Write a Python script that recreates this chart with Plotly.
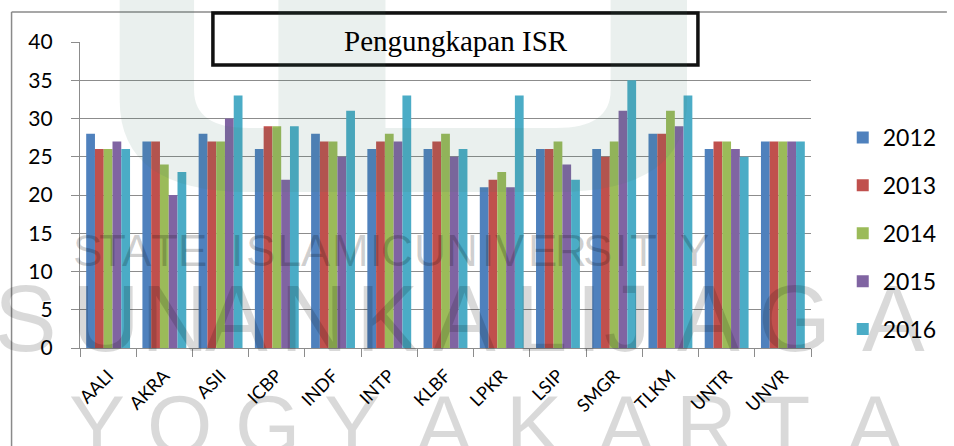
import plotly.graph_objects as go

categories = ["AALI", "AKRA", "ASII", "ICBP", "INDF", "INTP", "KLBF",
              "LPKR", "LSIP", "SMGR", "TLKM", "UNTR", "UNVR"]
years = ["2012", "2013", "2014", "2015", "2016"]
v2012 = [28, 27, 28, 26, 28, 26, 26, 21, 26, 26, 28, 26, 27]
v2013 = [26, 27, 27, 29, 27, 27, 27, 22, 26, 25, 28, 27, 27]
v2014 = [26, 24, 27, 29, 27, 28, 28, 23, 27, 27, 31, 27, 27]
v2015 = [27, 20, 30, 22, 25, 27, 25, 21, 24, 31, 29, 26, 27]
v2016 = [26, 23, 33, 29, 31, 33, 26, 33, 22, 35, 33, 25, 27]
series = [v2012, v2013, v2014, v2015, v2016]
colors = ["#4F81BD", "#C0504D", "#9BBB59", "#8064A2", "#4BACC6"]
title_text = "Pengungkapan ISR"

# background watermark text (scanned page decoration)
wm_line1 = "STATEISLAMICUNIVERSITY"
wm_line2 = "SUNANKALIJAGA"
wm_line3 = "YOGYAKARTA"

W, H = 954, 446
PL, PR, PT, PB = 80, 817, 42, 348


def px(x):
    return (x - PL) / (PR - PL)


def py(y):
    return (PB - y) / (PB - PT)


fig = go.Figure()
for name, vals, col in zip(years, series, colors):
    fig.add_trace(go.Bar(x=categories, y=vals, name=name, marker_color=col,
                         marker_line_width=0, legendgroup=name))

shapes = []
# outer chart border (left & top visible)
shapes.append(dict(type="line", xref="paper", yref="paper",
                   x0=px(11), x1=px(11), y0=py(446), y1=py(12),
                   line=dict(color="#8a8a8a", width=1.5), layer="above"))
shapes.append(dict(type="line", xref="paper", yref="paper",
                   x0=px(11), x1=px(954), y0=py(12), y1=py(12),
                   line=dict(color="#8a8a8a", width=1.5), layer="above"))
# title box
shapes.append(dict(type="rect", xref="paper", yref="paper",
                   x0=px(214), x1=px(703), y0=py(65), y1=py(13),
                   line=dict(color="#111111", width=3.5), fillcolor="white",
                   layer="above"))


def path_from(cmds):
    out = []
    for c in cmds:
        if isinstance(c, str):
            out.append(c)
        else:
            out.append(f"{px(c[0]):.5f},{py(c[1]):.5f}")
    return " ".join(out)


logo_fill = "rgba(60,120,100,0.11)"
logo_u = path_from(["M", (120, 0), "L", (120, 100), "Q", (120, 192), (250, 192),
                    "L", (560, 192), "Q", (692, 192), (692, 100), "L", (692, 0),
                    "L", (615, 0), "L", (615, 90), "Q", (615, 128), (560, 128),
                    "L", (250, 128), "Q", (195, 128), (195, 90), "L", (195, 0), "Z"])
shapes.append(dict(type="path", xref="paper", yref="paper", path=logo_u,
                   fillcolor=logo_fill, line=dict(width=0), layer="above"))
stem = path_from(["M", (280, 0), "L", (388, 0), "L", (388, 128), "L", (280, 128), "Z"])
shapes.append(dict(type="path", xref="paper", yref="paper", path=stem,
                   fillcolor=logo_fill, line=dict(width=0), layer="above"))

annotations = [
    dict(text=title_text, xref="paper", yref="paper", x=px(459), y=py(41),
         xanchor="center", yanchor="middle", showarrow=False,
         font=dict(family="Liberation Serif", size=29, color="black")),
]

wm1_x = [88, 113, 137, 165, 193, 238, 262, 291, 318, 353, 378, 400,
         433, 465, 491, 514, 546, 575, 602, 625, 648, 700]
wm2_x = [25, 106, 176, 238, 316, 390, 468, 545, 593, 632, 714, 800, 900]
wm3_x = [97, 180, 269, 354, 447, 538, 630, 712, 790, 882]
for line, xs, yc, size, alpha in [(wm_line1, wm1_x, 250, 44, 0.19),
                                  (wm_line2, wm2_x, 318, 94, 0.15),
                                  (wm_line3, wm3_x, 425, 84, 0.15)]:
    for ch, xc in zip(line, xs):
        annotations.append(dict(text=ch, xref="paper", yref="paper",
                                x=px(xc), y=py(yc), xanchor="center",
                                yanchor="middle", showarrow=False,
                                font=dict(family="Liberation Sans", size=size,
                                          color=f"rgba(0,0,0,{alpha})")))

fig.update_layout(
    width=W, height=H,
    margin=dict(l=PL, r=W - PR, t=PT, b=H - PB, pad=0),
    paper_bgcolor="white", plot_bgcolor="rgba(0,0,0,0)",
    barmode="group", bargap=0.22, bargroupgap=0,
    font=dict(family="Lato", color="black"),
    showlegend=True,
    legend=dict(x=px(849), xanchor="left", y=py(116), yanchor="top",
                font=dict(family="Lato", size=23, color="black"),
                traceorder="grouped", tracegroupgap=15,
                bgcolor="rgba(0,0,0,0)"),
    shapes=shapes, annotations=annotations,
)
fig.update_yaxes(range=[0, 40], dtick=5, showgrid=True, gridcolor="#8c8c8c",
                 gridwidth=1.4, showline=True, linecolor="#8c8c8c", linewidth=1.4,
                 ticks="outside", ticklen=8, tickcolor="#8c8c8c", tickwidth=1.4,
                 tickfont=dict(family="Lato", size=21, color="black"),
                 ticklabelstandoff=14, zeroline=False)
fig.update_xaxes(showline=True, linecolor="#8c8c8c", linewidth=1.4,
                 ticks="outside", ticklen=8, tickcolor="#8c8c8c", tickwidth=1.4,
                 tickson="boundaries", tickangle=-45,
                 tickfont=dict(family="Lato", size=18, color="black"),
                 ticklabelstandoff=9, showgrid=False)

fig.write_html("out.html", config={"displayModeBar": False},
               post_script="document.body.style.margin='0px';")
